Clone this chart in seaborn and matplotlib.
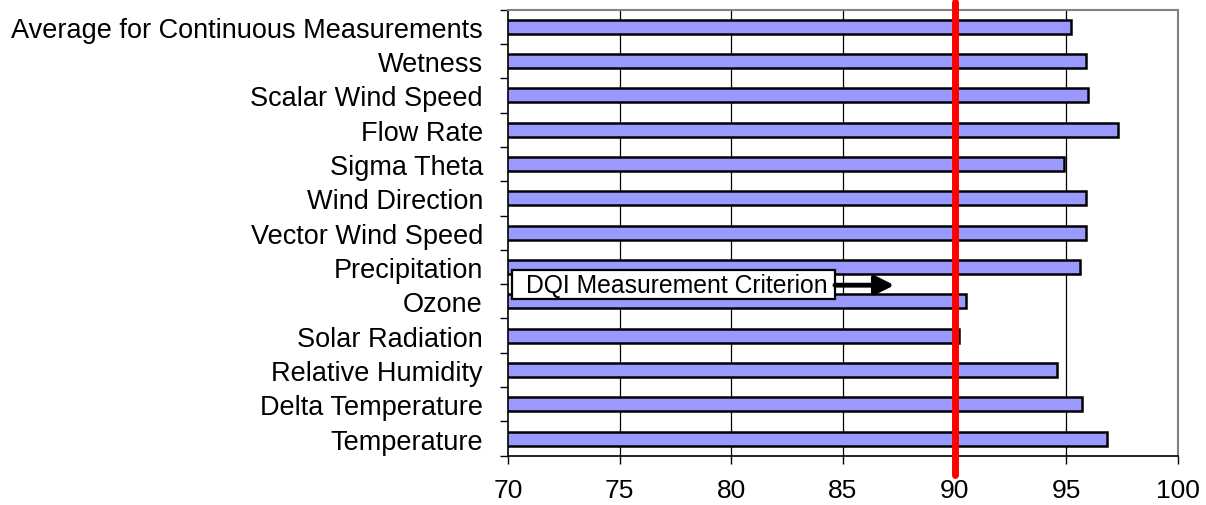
import numpy as np
import pandas as pd
import matplotlib
matplotlib.use("Agg")
import matplotlib.pyplot as plt
import seaborn as sns
from matplotlib.patches import Rectangle

categories = [
    "Average for Continuous Measurements",
    "Wetness",
    "Scalar Wind Speed",
    "Flow Rate",
    "Sigma Theta",
    "Wind Direction",
    "Vector Wind Speed",
    "Precipitation",
    "Ozone",
    "Solar Radiation",
    "Relative Humidity",
    "Delta Temperature",
    "Temperature",
]
values = [95.2, 95.9, 95.95, 97.3, 94.9, 95.9, 95.9, 95.6, 90.5, 90.2, 94.6, 95.7, 96.8]
criterion = 90
x_ticks = [70, 75, 80, 85, 90, 95, 100]

df = pd.DataFrame({"measurement": categories, "pct": values})

sns.set_style("white")
plt.rcParams["font.family"] = ["Liberation Sans", "DejaVu Sans"]
plt.rcParams["text.color"] = "black"
plt.rcParams["xtick.labelcolor"] = "black"
plt.rcParams["ytick.labelcolor"] = "black"

fig = plt.figure(figsize=(12.06, 5.06), dpi=100)
ax = fig.add_axes([0.4212, 0.0974, 0.5556, 0.8815])

# vertical gridlines behind the bars
for t in x_ticks[1:-1]:
    ax.axvline(t, color="black", lw=0.9, zorder=0)

sns.barplot(data=df, x="pct", y="measurement", orient="h", color="#9999FF",
            saturation=1, edgecolor="black", linewidth=1.8, width=0.41, ax=ax,
            zorder=2)

ax.set_xlim(70, 100)
ax.set_ylim(len(categories) - 0.5, -0.5)
ax.set_xticks(x_ticks)
ax.set_xlabel("")
ax.set_ylabel("")

# category labels centred, tick marks on the boundaries (spreadsheet style)
ax.set_yticks(np.arange(len(categories)))
ax.set_yticks(np.arange(len(categories) + 1) - 0.5, minor=True)
ax.tick_params(axis="y", which="major", length=0, pad=18, labelsize=19.5)
ax.tick_params(axis="y", which="minor", length=6, width=1, color="black", left=True)
ax.tick_params(axis="x", which="major", length=6, width=1, color="black",
               bottom=True, pad=10, labelsize=19)

for side in ["top", "right"]:
    ax.spines[side].set_color("#808080")
    ax.spines[side].set_linewidth(1.5)
for side in ["left", "bottom"]:
    ax.spines[side].set_color("black")
    ax.spines[side].set_linewidth(1.2)

# criterion line sticking out past the plot frame
ax.axvline(criterion, ymin=-0.043, ymax=1.017, color="red", lw=5,
           clip_on=False, zorder=5)

# criterion callout: box, label and arrow
ax.add_patch(Rectangle((70.17, 7.08), 84.64 - 70.17, 0.85, facecolor="white",
                       edgecolor="black", linewidth=1.6, zorder=6))
ax.text(70.8, 7.52, "DQI Measurement Criterion", fontsize=17.8, ha="left",
        va="center", zorder=7)
ax.annotate("", xy=(87.3, 7.53), xytext=(84.64, 7.53),
            arrowprops=dict(arrowstyle="-|>", lw=3.5, color="black",
                            mutation_scale=28, shrinkA=0, shrinkB=0),
            zorder=6)

fig.savefig("out.png", dpi=100)
